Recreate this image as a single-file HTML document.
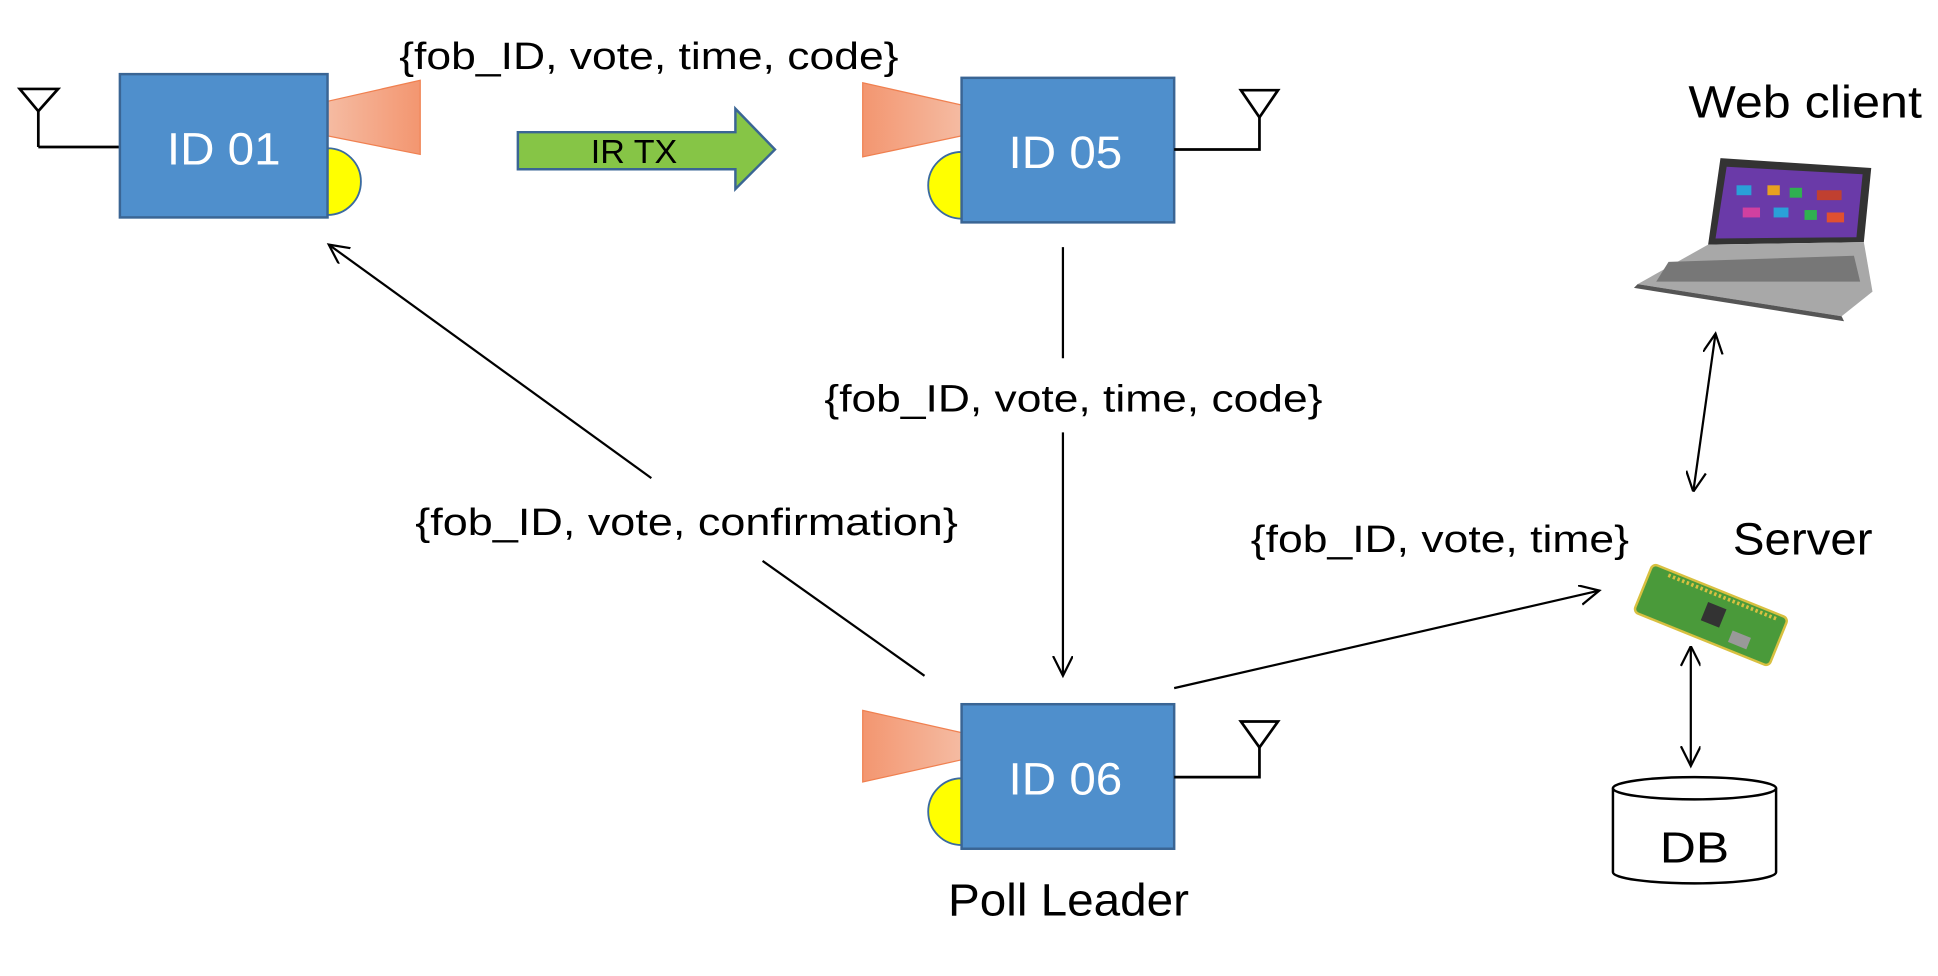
<!DOCTYPE html>
<html><head><meta charset="utf-8"><style>html,body{margin:0;padding:0;background:#fff;}svg{display:block}</style></head>
<body>
<svg width="1938" height="976" viewBox="0 0 1568 790" preserveAspectRatio="none" xmlns="http://www.w3.org/2000/svg" font-family="'Liberation Sans', sans-serif">
<defs>
<linearGradient id="hr" x1="0" x2="1"><stop offset="0" stop-color="#f5bba2"/><stop offset="1" stop-color="#f39670"/></linearGradient>
<linearGradient id="hl" x1="0" x2="1"><stop offset="0" stop-color="#f39670"/><stop offset="1" stop-color="#f5bba2"/></linearGradient>
<marker id="ah" markerWidth="20" markerHeight="20" refX="16" refY="8" orient="auto" markerUnits="userSpaceOnUse"><path d="M0,0 L16,8 L0,16" fill="none" stroke="#000" stroke-width="1.8"/></marker>
<marker id="as" markerWidth="20" markerHeight="20" refX="0" refY="8" orient="auto" markerUnits="userSpaceOnUse"><path d="M16,0 L0,8 L16,16" fill="none" stroke="#000" stroke-width="1.8"/></marker>
</defs>
<rect width="1568" height="790" fill="#fff"/>

<!-- ID01 -->
<path d="M31,119 V90 M31,119 H97" stroke="#000" stroke-width="2.2" fill="none"/>
<path d="M16,72 H47 L31,90 Z" fill="none" stroke="#000" stroke-width="2.2"/>
<path d="M265,147 m0,-27 a27,27 0 0 1 0,54 Z" fill="#ffff00" stroke="#3a6aa0" stroke-width="1.5"/>
<polygon points="265,82 340,65 340,125 265,110" fill="url(#hr)" stroke="#f08050" stroke-width="1"/>
<rect x="97" y="60" width="168" height="116" fill="#4f8fcc" stroke="#3a6594" stroke-width="2"/>
<text x="181" y="133" font-size="37" fill="#fff" text-anchor="middle" textLength="92" lengthAdjust="spacingAndGlyphs">ID 01</text>

<!-- IR TX -->
<polygon points="419,107 595,107 595,88 627,121 595,153 595,137 419,137" fill="#86c546" stroke="#3a6594" stroke-width="2"/>
<text x="513" y="132" font-size="27" text-anchor="middle" textLength="70" lengthAdjust="spacingAndGlyphs">IR TX</text>
<text x="323" y="56" font-size="31" textLength="404" lengthAdjust="spacingAndGlyphs">{fob_ID, vote, time, code}</text>

<!-- ID05 -->
<path d="M778,150 m0,-27 a27,27 0 0 0 0,54 Z" fill="#ffff00" stroke="#3a6aa0" stroke-width="1.5"/>
<polygon points="698,67 778,85 778,110 698,127" fill="url(#hl)" stroke="#f08050" stroke-width="1"/>
<rect x="778" y="63" width="172" height="117" fill="#4f8fcc" stroke="#3a6594" stroke-width="2"/>
<text x="862" y="136" font-size="37" fill="#fff" text-anchor="middle" textLength="92" lengthAdjust="spacingAndGlyphs">ID 05</text>
<path d="M950,121 H1019 V95" stroke="#000" stroke-width="2.2" fill="none"/>
<path d="M1004,73 H1034 L1019,95 Z" fill="none" stroke="#000" stroke-width="2.2"/>

<!-- ID06 -->
<path d="M778,657 m0,-27 a27,27 0 0 0 0,54 Z" fill="#ffff00" stroke="#3a6aa0" stroke-width="1.5"/>
<polygon points="698,575 778,593 778,615 698,633" fill="url(#hl)" stroke="#f08050" stroke-width="1"/>
<rect x="778" y="570" width="172" height="117" fill="#4f8fcc" stroke="#3a6594" stroke-width="2"/>
<text x="862" y="643" font-size="37" fill="#fff" text-anchor="middle" textLength="92" lengthAdjust="spacingAndGlyphs">ID 06</text>
<path d="M950,629 H1019 V605" stroke="#000" stroke-width="2.2" fill="none"/>
<path d="M1004,584 H1034 L1019,605 Z" fill="none" stroke="#000" stroke-width="2.2"/>
<text x="767" y="741" font-size="37" textLength="195" lengthAdjust="spacingAndGlyphs">Poll Leader</text>

<!-- connectors -->
<line x1="860" y1="200" x2="860" y2="290" stroke="#000" stroke-width="1.8"/>
<text x="667" y="333" font-size="31" textLength="403" lengthAdjust="spacingAndGlyphs">{fob_ID, vote, time, code}</text>
<line x1="860" y1="350" x2="860" y2="547" stroke="#000" stroke-width="1.8" marker-end="url(#ah)"/>
<line x1="527" y1="387" x2="266" y2="198" stroke="#000" stroke-width="1.8" marker-end="url(#ah)"/>
<line x1="748" y1="547" x2="617" y2="454" stroke="#000" stroke-width="1.8"/>
<text x="336" y="433" font-size="31" textLength="439" lengthAdjust="spacingAndGlyphs">{fob_ID, vote, confirmation}</text>
<line x1="950" y1="557" x2="1294" y2="478" stroke="#000" stroke-width="1.8" marker-end="url(#ah)"/>
<text x="1012" y="447" font-size="31" textLength="306" lengthAdjust="spacingAndGlyphs">{fob_ID, vote, time}</text>

<!-- right side -->
<text x="1366" y="95" font-size="37" textLength="189" lengthAdjust="spacingAndGlyphs">Web client</text>
<text x="1402" y="449" font-size="37" textLength="113" lengthAdjust="spacingAndGlyphs">Server</text>
<!-- laptop -->
<polygon points="1392,128 1514,136 1508,196 1382,198" fill="#333" />
<polygon points="1397,135 1507,141 1502,192 1388,193" fill="#6a3aa8"/>
<g fill="#2aa0d8"><rect x="1405" y="150" width="12" height="8"/><rect x="1430" y="150" width="10" height="8" fill="#e8a020"/><rect x="1448" y="152" width="10" height="8" fill="#30b050"/><rect x="1470" y="154" width="20" height="8" fill="#c04030"/><rect x="1410" y="168" width="14" height="8" fill="#d040a0"/><rect x="1435" y="168" width="12" height="8"/><rect x="1460" y="170" width="10" height="8" fill="#30b050"/><rect x="1478" y="172" width="14" height="8" fill="#e05030"/></g>
<polygon points="1382,198 1508,196 1515,236 1490,256 1325,230" fill="#a8a8a8"/>
<polygon points="1350,212 1500,207 1505,228 1340,228" fill="#777"/>
<polygon points="1325,230 1490,256 1492,260 1322,233" fill="#555"/>
<!-- pi -->
<g transform="rotate(22 1382 498)">
<rect x="1325" y="476" width="118" height="42" rx="4" fill="#4a9a3a" stroke="#d8c040" stroke-width="2"/>
<rect x="1378" y="488" width="16" height="16" fill="#333"/>
<rect x="1405" y="502" width="16" height="10" fill="#999"/>
<line x1="1340" y1="480" x2="1435" y2="480" stroke="#d8c040" stroke-width="3" stroke-dasharray="2 2"/>
</g>
<line x1="1370" y1="398" x2="1388" y2="270" stroke="#000" stroke-width="1.8" marker-start="url(#as)" marker-end="url(#ah)"/>
<line x1="1368" y1="523" x2="1368" y2="620" stroke="#000" stroke-width="1.8" marker-start="url(#as)" marker-end="url(#ah)"/>
<!-- DB -->
<path d="M1305,638 V706 A66,9 0 0 0 1437,706 V638" fill="#fff" stroke="#000" stroke-width="2"/>
<ellipse cx="1371" cy="638" rx="66" ry="9" fill="#fff" stroke="#000" stroke-width="2"/>
<text x="1371" y="698" font-size="35" text-anchor="middle" textLength="56" lengthAdjust="spacingAndGlyphs">DB</text>
</svg>
</body></html>
